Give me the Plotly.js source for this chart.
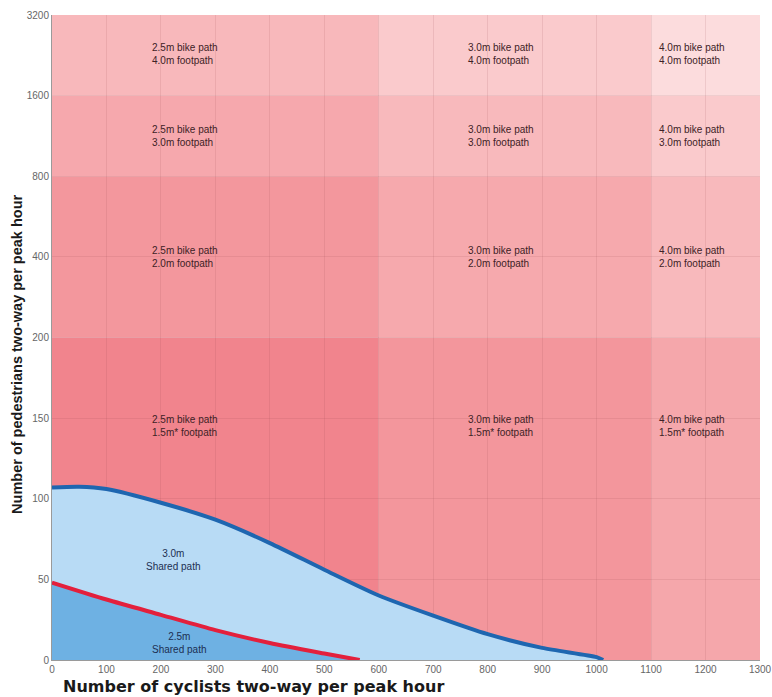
<!DOCTYPE html>
<html>
<head>
<meta charset="utf-8">
<script src="https://cdn.plot.ly/plotly-3.0.1.min.js"></script>
<style>html,body{margin:0;padding:0;background:#fff;}#chart{width:772px;height:697px;}</style>
</head>
<body>
<div id="chart"></div>
<script>
// ---- data ----
const yTickValues = [0, 50, 100, 150, 200, 400, 800, 1600, 3200];
const yTickLabels = ['0', '50', '100', '150', '200', '400', '800', '1600', '3200'];
const xTickValues = [0, 100, 200, 300, 400, 500, 600, 700, 800, 900, 1000, 1100, 1200, 1300];

const colEdges = [0, 600, 1100, 1300];
const rowEdges = [0, 200, 800, 1600, 3200];
const bikePaths = ['2.5m bike path', '3.0m bike path', '4.0m bike path'];
const footPaths = ['1.5m* footpath', '2.0m footpath', '3.0m footpath', '4.0m footpath'];
const labelX = [245, 825, 1175];
const labelY = [145, 400, 1131, 2290];
const cellColors = [
  ['#f1848d', '#f3969c', '#f5a7ab'],
  ['#f3979d', '#f6a9ad', '#f8b9bc'],
  ['#f6a8ad', '#f8b9bc', '#facacc'],
  ['#f8b8bb', '#facacc', '#fcdcdd']
];

const shared30X = [0, 50, 100, 200, 300, 400, 500, 600, 700, 800, 900, 1000, 1012];
const shared30Y = [107, 107.5, 106, 97.5, 87, 72.5, 56, 40, 27.5, 16, 7.5, 1.8, 0];
const shared25X = [0, 100, 200, 300, 400, 500, 565];
const shared25Y = [48, 37.5, 28, 18.5, 10.5, 4, 0];

const sharedLabels = [
  {text: '3.0m<br>Shared path', x: 224, y: 62},
  {text: '2.5m<br>Shared path', x: 235, y: 10.5}
];

// ---- piecewise y scale (linear to 200, then doubling per step) ----
function ty(v) { return v <= 200 ? v / 50 : 4 + Math.log2(v / 200); }

const shapes = [];
const annotations = [];
for (let r = 0; r < rowEdges.length - 1; r++) {
  for (let c = 0; c < colEdges.length - 1; c++) {
    shapes.push({
      type: 'rect', xref: 'x', yref: 'y', layer: 'below',
      x0: colEdges[c], x1: colEdges[c + 1], y0: ty(rowEdges[r]), y1: ty(rowEdges[r + 1]),
      fillcolor: cellColors[r][c], line: {width: 0}
    });
    annotations.push({
      x: labelX[c], y: ty(labelY[r]), xref: 'x', yref: 'y',
      text: bikePaths[c] + '<br>' + footPaths[r], showarrow: false,
      font: {family: 'Liberation Sans, Arial', size: 10, color: '#3d2226'},
      align: 'left'
    });
  }
}
sharedLabels.forEach(l => annotations.push({
  x: l.x, y: ty(l.y), xref: 'x', yref: 'y', text: l.text, showarrow: false,
  font: {family: 'Liberation Sans, Arial', size: 10, color: '#1c2f52'}, align: 'center'
}));
annotations.push({
  xref: 'paper', yref: 'paper', x: 0.284, y: 0, yshift: -15, xanchor: 'center', yanchor: 'top',
  text: '<b>Number of cyclists two-way per peak hour</b>', showarrow: false,
  font: {family: 'DejaVu Sans, Verdana', size: 16, color: '#1a1a1a'}
});
annotations.push({
  xref: 'paper', yref: 'paper', x: 0, xshift: -35, y: 0.473, xanchor: 'center', yanchor: 'middle',
  textangle: -90,
  text: '<b>Number of pedestrians two-way per peak hour</b>', showarrow: false,
  font: {family: 'Liberation Sans, Arial', size: 14.5, color: '#1a1a1a'}
});

const traces = [
  {
    x: shared30X, y: shared30Y.map(ty), type: 'scatter', mode: 'lines',
    line: {color: '#1e66b0', width: 4, shape: 'spline', smoothing: 0.7},
    fill: 'tozeroy', fillcolor: '#b8dbf5', hoverinfo: 'skip'
  },
  {
    x: shared25X, y: shared25Y.map(ty), type: 'scatter', mode: 'lines',
    line: {color: '#e3203c', width: 4, shape: 'spline', smoothing: 0.7},
    fill: 'tozeroy', fillcolor: '#6eb1e3', hoverinfo: 'skip'
  }
];

const layout = {
  width: 772, height: 697,
  margin: {l: 52, r: 12, t: 15, b: 37},
  paper_bgcolor: '#ffffff', plot_bgcolor: '#ffffff',
  showlegend: false,
  font: {family: 'Liberation Sans, Arial', size: 10, color: '#666'},
  xaxis: {
    range: [0, 1300], tickvals: xTickValues, ticks: '', showgrid: true,
    gridcolor: 'rgba(150,70,80,0.13)', gridwidth: 1, zeroline: false,
    showline: true, linecolor: '#9a9a9a', linewidth: 1,
    tickfont: {size: 10, color: '#666'}, fixedrange: true
  },
  yaxis: {
    range: [0, 8], tickvals: yTickValues.map(ty), ticktext: yTickLabels, ticks: '',
    showgrid: true, gridcolor: 'rgba(150,70,80,0.13)', gridwidth: 1, zeroline: false,
    showline: true, linecolor: '#9a9a9a', linewidth: 1,
    tickfont: {size: 10, color: '#666'}, fixedrange: true
  },
  shapes: shapes,
  annotations: annotations
};

Plotly.newPlot('chart', traces, layout, {displayModeBar: false, staticPlot: true});
</script>
</body>
</html>
